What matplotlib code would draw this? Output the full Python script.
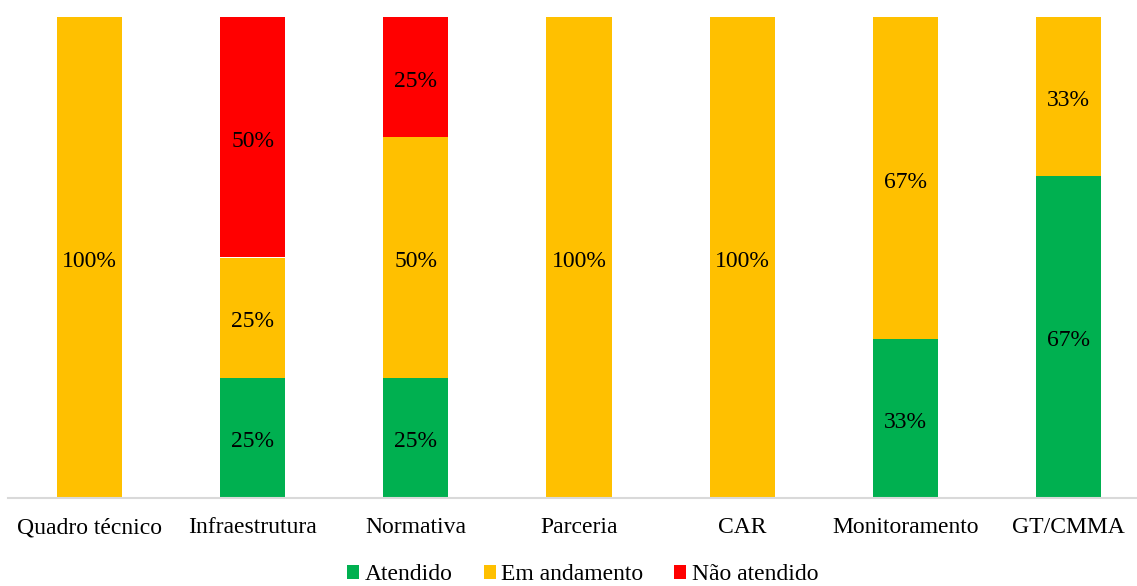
import matplotlib.pyplot as plt
import matplotlib.transforms as mtransforms
import numpy as np

plt.rcParams['font.family'] = ['Liberation Serif', 'DejaVu Serif']

categories = ["Quadro técnico", "Infraestrutura", "Normativa", "Parceria",
              "CAR", "Monitoramento", "GT/CMMA"]
atendido = [0, 25, 25, 0, 0, 33, 67]
em_andamento = [100, 25, 50, 100, 100, 67, 33]
nao_atendido = [0, 50, 25, 0, 0, 0, 0]

series = [("Atendido", atendido, "#00B050"),
          ("Em andamento", em_andamento, "#FFC000"),
          ("Não atendido", nao_atendido, "#FF0000")]

fig = plt.figure(figsize=(11.37, 5.86), dpi=100)
ax = fig.add_axes([7.9 / 1137, 88 / 586, 1 - 7.9 / 1137, (498 - 17) / 586])

# nudge the value labels a few pixels down, like the original
label_tr = mtransforms.offset_copy(ax.transData, fig=fig, x=0, y=-4, units="dots")

x = np.arange(len(categories))
bottom = np.zeros(len(categories))
for name, vals, color in series:
    vals = np.array(vals, dtype=float)
    ax.bar(x, vals, 0.4, bottom=bottom, color=color, label=name)
    for xi, b, v in zip(x, bottom, vals):
        if v > 0:
            ax.text(xi, b + v / 2, f"{v:.0f}%", ha="center", va="center",
                    fontsize=17, color="black", transform=label_tr)
    bottom += vals

ax.set_xlim(-0.5, 6.42)
ax.set_ylim(0, 100)
ax.set_xticks(x)
ax.set_xticklabels(categories, fontsize=17)
ax.tick_params(axis="x", length=0, pad=14)
ax.set_yticks([])
for side in ["top", "right", "left"]:
    ax.spines[side].set_visible(False)
ax.spines["bottom"].set_color("#D9D9D9")
ax.spines["bottom"].set_linewidth(1.5)

fig.legend(loc="center", bbox_to_anchor=(583 / 1137, 1 - 575 / 586), ncol=3,
           frameon=False, fontsize=17, handlelength=0.5, handleheight=0.5,
           handletextpad=0.25, columnspacing=1.3, borderpad=0)

fig.savefig("out.png", dpi=100)
